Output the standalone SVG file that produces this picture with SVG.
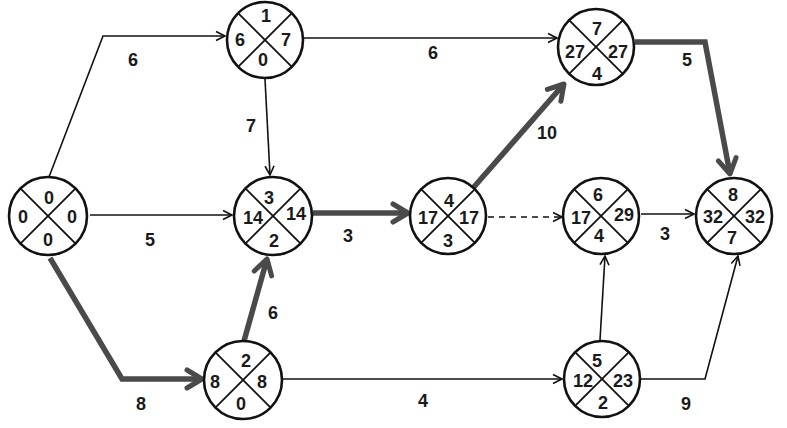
<svg xmlns="http://www.w3.org/2000/svg" width="787" height="428" viewBox="0 0 787 428">
<style>
.bg{fill:#ffffff}
.node circle{fill:#ffffff;stroke:#111;stroke-width:2.6}
.node line{stroke:#111;stroke-width:1.8}
text{font-family:"Liberation Sans",Arial,sans-serif;font-weight:bold;font-size:18px;fill:#1a1a1a;text-anchor:middle}
.thin{fill:none;stroke:#111;stroke-width:1.6}
.thick{fill:none;stroke:#4a4a4a;stroke-width:5.5;stroke-linejoin:miter}
.dash{stroke-dasharray:6,5}
</style>
<defs>
<marker id="ah" markerUnits="userSpaceOnUse" markerWidth="12" markerHeight="12" refX="10" refY="5" orient="auto" overflow="visible">
<path d="M1,0.5 L10,5 L1,9.5" fill="none" stroke="#111" stroke-width="1.6"/>
</marker>
<marker id="ahk" markerUnits="userSpaceOnUse" markerWidth="22" markerHeight="22" refX="17" refY="10" orient="auto" overflow="visible">
<path d="M2,1 L17,10 L2,19" fill="none" stroke="#4a4a4a" stroke-width="5" stroke-linecap="round" stroke-linejoin="round"/>
</marker>
</defs>
<rect class="bg" x="0" y="0" width="787" height="428"/>
<g id="connectors">
<path class="thin" d="M49,177 L103,36 L225,36" marker-end="url(#ah)"/>
<path class="thin" d="M265,79 L270,175" marker-end="url(#ah)"/>
<path class="thin" d="M90,215 L232,215" marker-end="url(#ah)"/>
<path class="thin" d="M304,38 L557,38" marker-end="url(#ah)"/>
<path class="thick" d="M50,258 L122,379 L202,379" marker-end="url(#ahk)"/>
<path class="thick" d="M244,341 L267,259" marker-end="url(#ahk)"/>
<path class="thick" d="M313,213 L408,213" marker-end="url(#ahk)"/>
<path class="thick" d="M473,188 L564,84" marker-end="url(#ahk)"/>
<path class="thick" d="M635,42 L705,42 L730,174" marker-end="url(#ahk)"/>
<path class="thin dash" d="M488,217 L562,217" marker-end="url(#ah)"/>
<path class="thin" d="M641,214 L694,214" marker-end="url(#ah)"/>
<path class="thin" d="M283,379 L562,379" marker-end="url(#ah)"/>
<path class="thin" d="M600,340 L605,256" marker-end="url(#ah)"/>
<path class="thin" d="M641,379 L705,379 L738,256" marker-end="url(#ah)"/>
<text x="133" y="66">6</text>
<text x="251" y="132">7</text>
<text x="150" y="246">5</text>
<text x="433" y="59">6</text>
<text x="141" y="410">8</text>
<text x="273" y="319">6</text>
<text x="348" y="242">3</text>
<text x="547" y="139">10</text>
<text x="687" y="66">5</text>
<text x="665" y="240">3</text>
<text x="423" y="407">4</text>
<text x="686" y="410">9</text>
</g>
<g id="n0" class="node">
<circle cx="48" cy="216" r="39"/>
<line x1="20.4" y1="188.4" x2="75.6" y2="243.6"/><line x1="75.6" y1="188.4" x2="20.4" y2="243.6"/>
<text x="49" y="204">0</text><text x="23" y="223">0</text><text x="72" y="223">0</text><text x="48" y="246">0</text>
</g>
<g id="n1" class="node">
<circle cx="265" cy="40" r="38"/>
<line x1="238.1" y1="13.1" x2="291.9" y2="66.9"/><line x1="291.9" y1="13.1" x2="238.1" y2="66.9"/>
<text x="266" y="22">1</text><text x="240" y="46">6</text><text x="286" y="46">7</text><text x="263" y="66">0</text>
</g>
<g id="n2" class="node">
<circle cx="273" cy="216" r="39"/>
<line x1="245.4" y1="188.4" x2="300.6" y2="243.6"/><line x1="300.6" y1="188.4" x2="245.4" y2="243.6"/>
<text x="269" y="204">3</text><text x="253" y="224">14</text><text x="296" y="220">14</text><text x="274" y="247">2</text>
</g>
<g id="n3" class="node">
<circle cx="448" cy="216" r="38"/>
<line x1="421.1" y1="189.1" x2="474.9" y2="242.9"/><line x1="474.9" y1="189.1" x2="421.1" y2="242.9"/>
<text x="449" y="207">4</text><text x="428" y="224">17</text><text x="469" y="224">17</text><text x="448" y="247">3</text>
</g>
<g id="n4" class="node">
<circle cx="596" cy="47" r="38"/>
<line x1="569.1" y1="20.1" x2="622.9" y2="73.9"/><line x1="622.9" y1="20.1" x2="569.1" y2="73.9"/>
<text x="597" y="35">7</text><text x="575" y="58">27</text><text x="618" y="58">27</text><text x="597" y="80">4</text>
</g>
<g id="n5" class="node">
<circle cx="601" cy="216" r="38"/>
<line x1="574.1" y1="189.1" x2="627.9" y2="242.9"/><line x1="627.9" y1="189.1" x2="574.1" y2="242.9"/>
<text x="598" y="201">6</text><text x="581" y="224">17</text><text x="624" y="221">29</text><text x="599" y="242">4</text>
</g>
<g id="n6" class="node">
<circle cx="734" cy="216" r="38"/>
<line x1="707.1" y1="189.1" x2="760.9" y2="242.9"/><line x1="760.9" y1="189.1" x2="707.1" y2="242.9"/>
<text x="733" y="201">8</text><text x="713" y="223">32</text><text x="755" y="223">32</text><text x="732" y="244">7</text>
</g>
<g id="n7" class="node">
<circle cx="243" cy="380" r="39"/>
<line x1="215.4" y1="352.4" x2="270.6" y2="407.6"/><line x1="270.6" y1="352.4" x2="215.4" y2="407.6"/>
<text x="246" y="367">2</text><text x="215" y="388">8</text><text x="262" y="388">8</text><text x="241" y="410">0</text>
</g>
<g id="n8" class="node">
<circle cx="602" cy="379" r="38"/>
<line x1="575.1" y1="352.1" x2="628.9" y2="405.9"/><line x1="628.9" y1="352.1" x2="575.1" y2="405.9"/>
<text x="597" y="367">5</text><text x="583" y="387">12</text><text x="623" y="387">23</text><text x="603" y="409">2</text>
</g>
</svg>
